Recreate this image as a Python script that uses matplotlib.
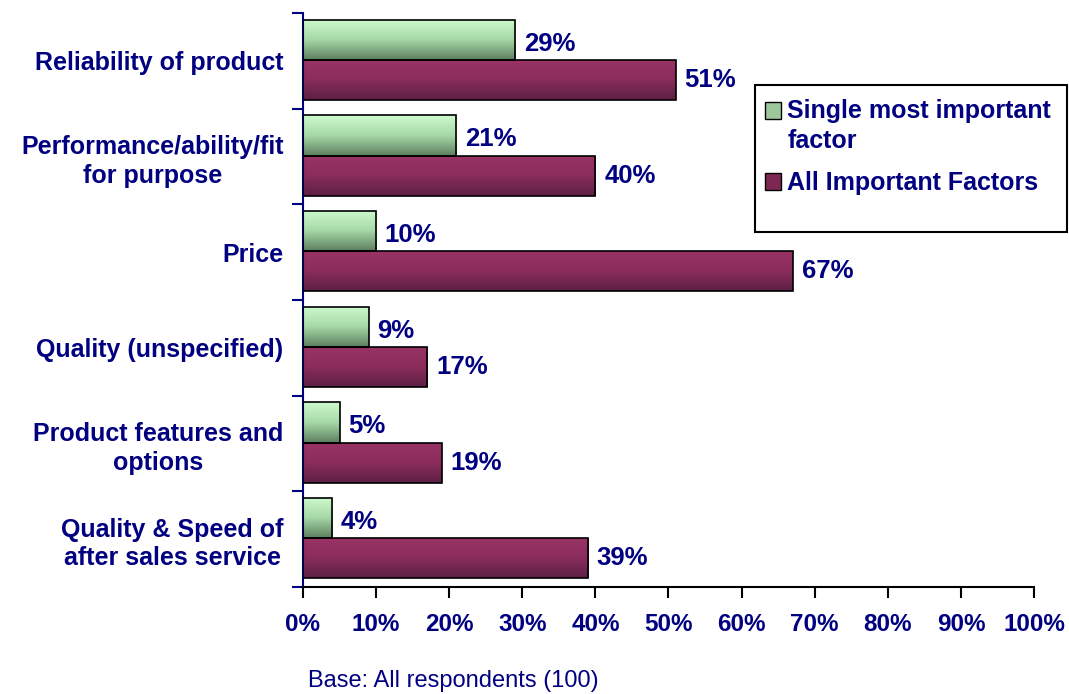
import numpy as np
import matplotlib
matplotlib.use("Agg")
import matplotlib.pyplot as plt
from matplotlib.patches import Rectangle
from matplotlib.colors import LinearSegmentedColormap
from matplotlib.legend_handler import HandlerPatch

plt.rcParams['font.family'] = ['Liberation Sans', 'DejaVu Sans']

categories = ["Reliability of product",
              "Performance/ability/fit\nfor purpose",
              "Price",
              "Quality (unspecified)",
              "Product features and\noptions",
              "Quality & Speed of\nafter sales service"]
single_most = [29, 21, 10, 9, 5, 4]
all_factors = [51, 40, 67, 17, 19, 39]
series_names = ["Single most important\nfactor", "All Important Factors"]
x_ticks = [0, 10, 20, 30, 40, 50, 60, 70, 80, 90, 100]

navy = "#000080"
green_cmap = LinearSegmentedColormap.from_list("g", ["#cdfacd", "#a6d8a6", "#5d7f60"])
purple_cmap = LinearSegmentedColormap.from_list("p", ["#9a3366", "#8a2d5c", "#5e2044"])

fig = plt.figure(figsize=(10.69, 6.94), dpi=100)
ax = fig.add_axes([0.2834, 0.1542, 0.6839, 0.8271])

ypos = np.arange(len(categories))
h = 0.42
grad = np.linspace(0, 1, 64).reshape(-1, 1)


def gradient_bars(vals, offset, cmap):
    bars = ax.barh(ypos + offset, vals, height=h, color="none",
                   edgecolor="black", linewidth=1.2, zorder=3)
    for b, v in zip(bars, vals):
        y0 = b.get_y()
        im = ax.imshow(grad, cmap=cmap, aspect="auto", origin="upper",
                       extent=(0, v, y0 + h, y0), zorder=2)
        im.set_clip_path(b)
    return bars


gradient_bars(single_most, -0.22, green_cmap)
gradient_bars(all_factors, 0.20, purple_cmap)

for i, (a, b) in enumerate(zip(single_most, all_factors)):
    ax.text(a + 1.2, i - 0.18, f"{a}%", va="center", ha="left",
            fontsize=18.5, fontweight="bold", color=navy)
    ax.text(b + 1.2, i + 0.20, f"{b}%", va="center", ha="left",
            fontsize=18.5, fontweight="bold", color=navy)

ax.set_xlim(0, 100)
ax.set_ylim(len(categories) - 0.5, -0.5)

ax.set_yticks(ypos)
ax.set_yticklabels(categories, fontsize=18, fontweight="bold", color=navy,
                   multialignment="center", linespacing=1.25)
ax.set_yticks(np.arange(-0.5, len(categories)), minor=True)
ax.tick_params(axis="y", which="major", length=0, pad=14)
ax.tick_params(axis="y", which="minor", length=8, width=1.5, color=navy)

ax.set_xticks(x_ticks)
ax.set_xticklabels([f"{t}%" for t in x_ticks], fontsize=17.5,
                   fontweight="bold", color=navy)
ax.tick_params(axis="x", length=8, width=1.5, color="black", pad=11)

for s in ["top", "right"]:
    ax.spines[s].set_visible(False)
ax.spines["left"].set_color(navy)
ax.spines["left"].set_linewidth(1.5)
ax.spines["bottom"].set_color("black")
ax.spines["bottom"].set_linewidth(1.5)


# key square sits next to the first line of a two-line label
def raised_square(legend, orig_handle, xdescent, ydescent, width, height, fontsize):
    return Rectangle((-xdescent, -ydescent + 12), width, height)


# legend box
fig.patches.append(Rectangle((0.706, 0.666), 0.292, 0.212, transform=fig.transFigure,
                             facecolor="white", edgecolor="black", linewidth=1.5))
handles = [Rectangle((0, 0), 1, 1, facecolor="#9cc89c", edgecolor="black"),
           Rectangle((0, 0), 1, 1, facecolor="#7d2852", edgecolor="black")]
leg = fig.legend(handles, series_names, loc="upper left",
                 bbox_to_anchor=(0.706, 0.872), frameon=False,
                 prop={"weight": "bold", "size": 18}, handlelength=0.65,
                 handleheight=0.65, handletextpad=0.25, labelspacing=0.7,
                 borderpad=0.3, borderaxespad=0.1,
                 handler_map={handles[0]: HandlerPatch(patch_func=raised_square)})
for t in leg.get_texts():
    t.set_color(navy)
    t.set_linespacing(1.35)

fig.text(0.424, 0.003, "Base: All respondents (100)", fontsize=17, color=navy,
         ha="center", va="bottom")

fig.savefig("out.png", dpi=100)
